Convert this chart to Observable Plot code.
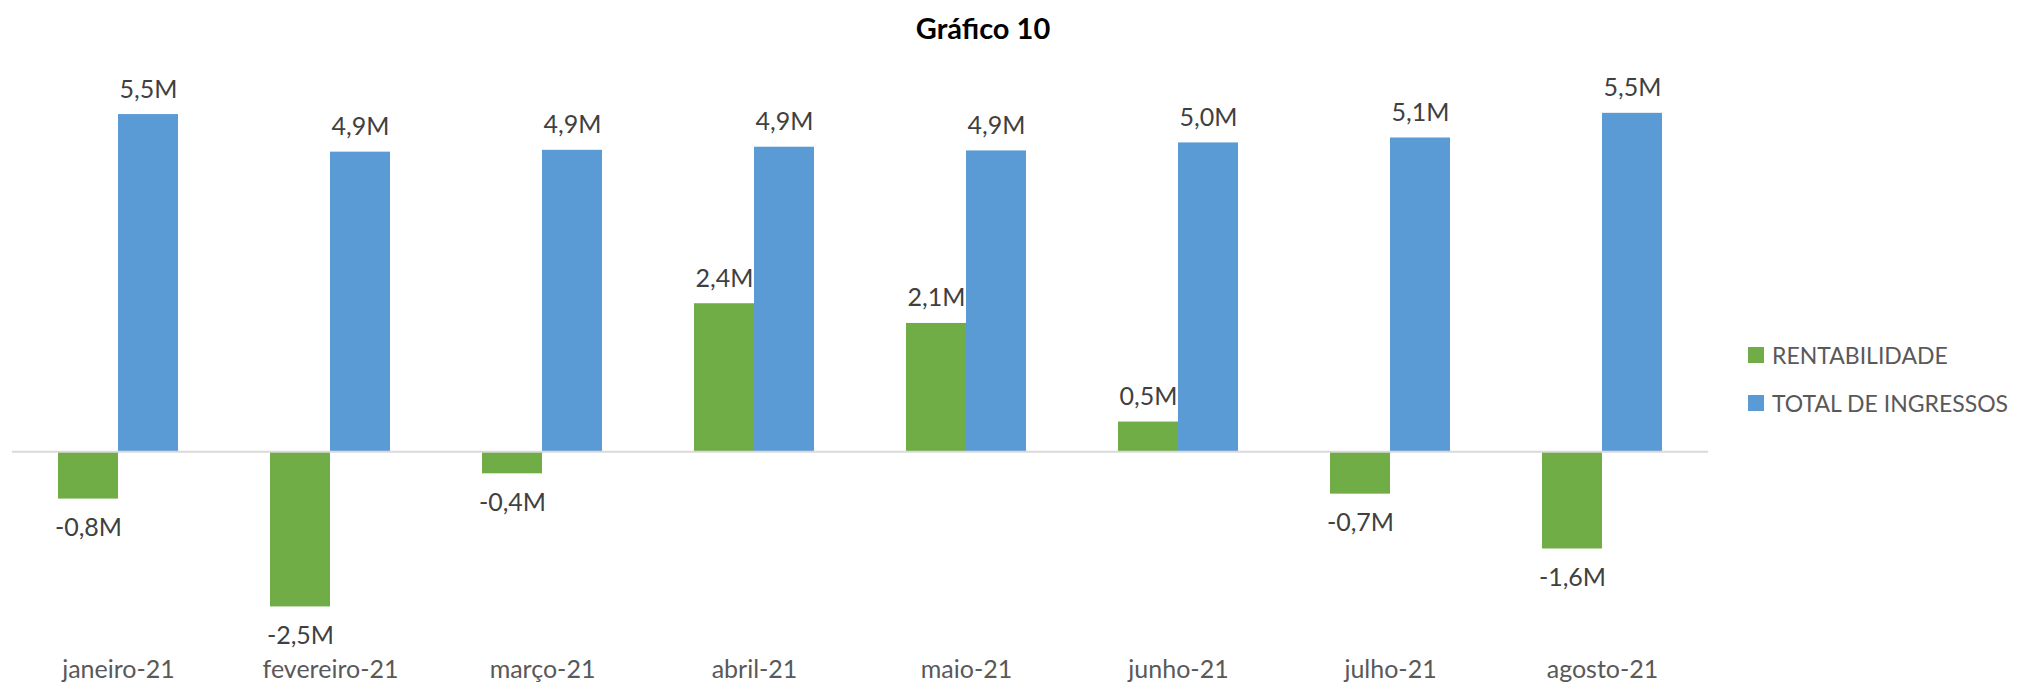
<!DOCTYPE html>
<html>
<head>
<meta charset="utf-8">
<script src="https://cdn.jsdelivr.net/npm/d3@7"></script>
<script src="https://cdn.jsdelivr.net/npm/@observablehq/plot@0.6"></script>
<style>
  html, body { margin: 0; padding: 0; background: #fff; }
  #wrap { position: relative; width: 2022px; height: 686px; font-family: Lato, "Open Sans", sans-serif; }
  #title { height: 56px; width: 1966px; text-align: center; font-weight: bold; font-size: 29px; line-height: 56px; color: #000; }
  #legend { position: absolute; left: 1748px; top: 331px; white-space: nowrap; }
  #legend .sw { display: flex; align-items: center; height: 48px; font-size: 23px; color: #595959; white-space: nowrap; }
  #legend .sq { width: 16px; height: 16px; margin-right: 8px; flex: none; }
</style>
</head>
<body>
<div id="wrap">
  <div id="title">Gráfico 10</div>
  <div id="chart"></div>
  <div id="legend"></div>
</div>
<script>
const months = ["janeiro-21", "fevereiro-21", "março-21", "abril-21", "maio-21", "junho-21", "julho-21", "agosto-21"];
const seriesNames = ["RENTABILIDADE", "TOTAL DE INGRESSOS"];
const seriesColors = ["#70AD47", "#5B9BD5"];
// values in millions
const rentabilidade = [-0.77, -2.52, -0.36, 2.40, 2.08, 0.48, -0.69, -1.58];
const totalIngressos = [5.47, 4.86, 4.89, 4.94, 4.88, 5.01, 5.09, 5.49];

const data = [];
months.forEach((m, i) => {
  data.push({month: m, series: seriesNames[0], value: rentabilidade[i]});
  data.push({month: m, series: seriesNames[1], value: totalIngressos[i]});
});

const fmt = v => d3.format(".1f")(v).replace("−", "-").replace(".", ",") + "M";

const chart = Plot.plot({
  width: 2022,
  height: 630,
  marginTop: 10,
  marginBottom: 50,
  marginLeft: 10,
  marginRight: 313,
  style: {fontFamily: "Lato, 'Open Sans', sans-serif", background: "#fff"},
  fx: {domain: months, padding: 0, label: null},
  x: {domain: seriesNames, paddingInner: 0, paddingOuter: 0.75, axis: null},
  y: {domain: [-3, 6.25], axis: null},
  color: {domain: seriesNames, range: seriesColors},
  marks: [
    Plot.barY(data, {fx: "month", x: "series", y: "value", fill: "series"}),
    Plot.ruleY([0], {stroke: "#D9D9D9", strokeWidth: 2}),
    Plot.text(data.filter(d => d.value >= 0), {fx: "month", x: "series", y: "value", text: d => fmt(d.value), dy: -25, fontSize: 25, fill: "#404040"}),
    Plot.text(data.filter(d => d.value < 0), {fx: "month", x: "series", y: "value", text: d => fmt(d.value), dy: 29, fontSize: 25, fill: "#404040"}),
    Plot.axisFx({anchor: "bottom", tickSize: 0, tickPadding: 24, fontSize: 25, color: "#595959", label: null})
  ]
});
document.getElementById("chart").appendChild(chart);

const legend = document.getElementById("legend");
seriesNames.forEach((s, i) => {
  const row = document.createElement("div");
  row.className = "sw";
  const sq = document.createElement("div");
  sq.className = "sq";
  sq.style.background = seriesColors[i];
  const label = document.createElement("span");
  label.textContent = s;
  row.appendChild(sq);
  row.appendChild(label);
  legend.appendChild(row);
});
</script>
</body>
</html>
